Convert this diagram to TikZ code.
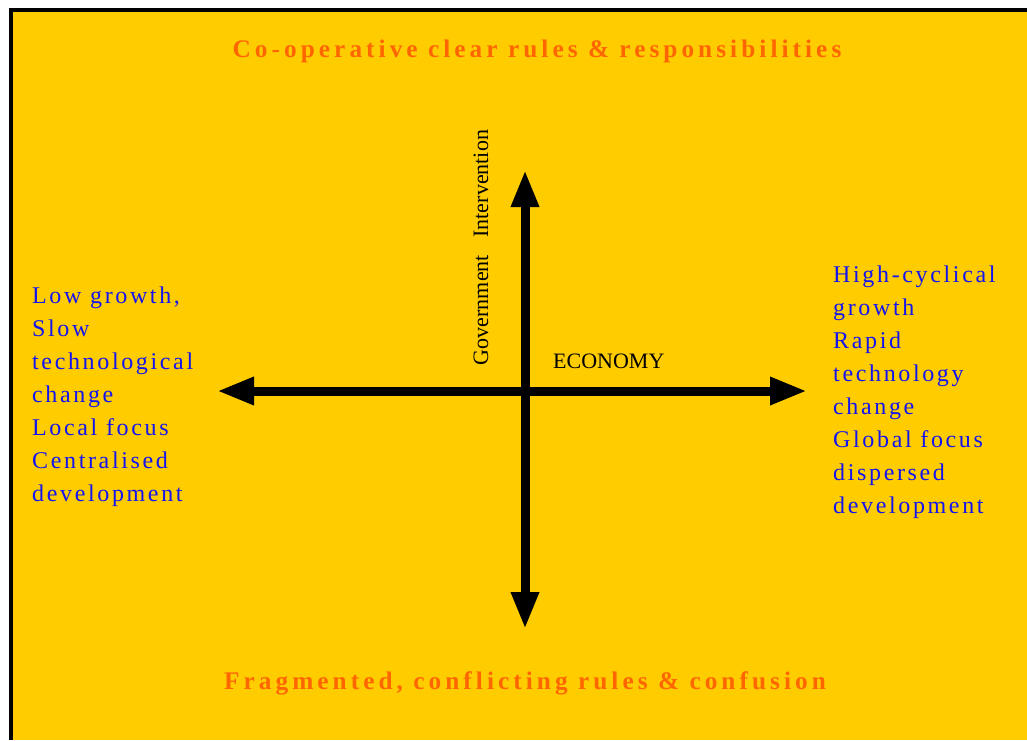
\documentclass[tikz,border=0pt]{standalone}
\usepackage{fontspec}
\setmainfont{Liberation Serif}
\newfontfamily\spacedfont[LetterSpace=11]{Liberation Serif}
\newfontfamily\titlefont[LetterSpace=16]{Liberation Serif}
\usetikzlibrary{arrows.meta}
\definecolor{bgyellow}{HTML}{FFCC00}
\definecolor{titleorange}{HTML}{FF6600}
\definecolor{sideblue}{HTML}{1414F0}
\tikzset{
  axis/.style={line width=9pt, {Triangle[length=37pt,width=26pt]}-{Triangle[length=37pt,width=26pt]}},
  sidetext/.style={anchor=north west, inner sep=0pt, align=left, text=sideblue,
    font=\spacedfont\fontsize{24pt}{33pt}\selectfont},
  titletext/.style={anchor=base, inner sep=0pt, text=titleorange,
    font=\titlefont\bfseries\fontsize{25.3pt}{30pt}\selectfont},
  axislabel/.style={inner sep=0pt, text=black, font=\fontsize{22pt}{26pt}\selectfont}
}
\begin{document}
\begin{tikzpicture}[x=1pt,y=-1pt]
\useasboundingbox (0,0) rectangle (1027,740);
\fill[white] (0,0) rectangle (1027,740);
\fill[bgyellow] (11,9.5) rectangle (1027,740);
\draw[line width=4pt] (11,740) -- (11,9.5) -- (1027,9.5);

\coordinate (L) at (217,391);
\coordinate (R) at (807,391);
\coordinate (T) at (525,170);
\coordinate (B) at (525,629);
\draw[axis] (L) -- (R);
\draw[axis] (B) -- (T);

\node[titletext] (top) at (537,57) {Co-operative clear rules \& responsibilities};
\node[titletext] (bottom) at (525,689) {Fragmented, conflicting rules \& confusion};

\node[axislabel, anchor=base west] (econ) at (553,368) {ECONOMY};
\node[axislabel, anchor=base, rotate=90] (gov) at (488,247.5) {Government\hspace{0.8em}Intervention};

\node[sidetext] (left) at (32,286.5) {Low growth,\\Slow\\technological\\change\\Local focus\\Centralised\\development};
\node[sidetext] (right) at (833,265.5) {High-cyclical\\growth\\Rapid\\technology\\change\\Global focus\\dispersed\\development};
\end{tikzpicture}
\end{document}
